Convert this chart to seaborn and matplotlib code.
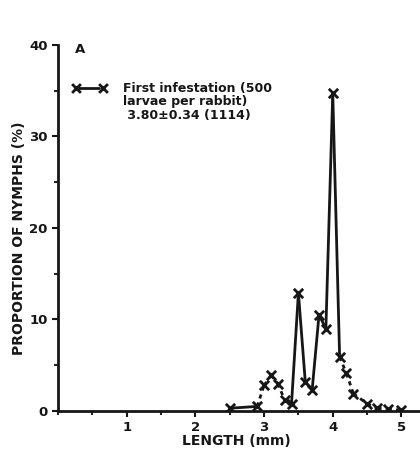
import matplotlib
matplotlib.use("Agg")
import matplotlib.pyplot as plt
import seaborn as sns
import pandas as pd
from matplotlib.ticker import MultipleLocator

length_mm = [2.5, 2.9, 3.0, 3.1, 3.2, 3.3, 3.4, 3.5, 3.6, 3.7, 3.8, 3.9, 4.0, 4.1, 4.2, 4.3, 4.5, 4.65, 4.8, 5.0]
proportion = [0.3, 0.5, 2.8, 3.9, 3.0, 1.2, 0.8, 12.9, 3.2, 2.3, 10.5, 9.0, 34.7, 5.9, 4.1, 1.9, 0.8, 0.3, 0.2, 0.1]
# line style per segment (between point i and i+1)
segment_style = ["solid", "dotted", "dotted", "dotted", "dotted", "dotted", "solid", "solid", "solid",
                 "solid", "solid", "solid", "solid", "dotted", "dotted", "dotted", "dotted", "dotted", "dotted"]

sns.set_style("ticks")
plt.rcParams["font.family"] = ["DejaVu Sans"]
plt.rcParams["font.weight"] = "bold"

fig = plt.figure(figsize=(4.2, 4.59), dpi=100)
ax = fig.add_axes([0.138, 0.1046, 0.862, 0.7974])

df = pd.DataFrame({"x": length_mm, "y": proportion})
ink = "#161616"
for i, st in enumerate(segment_style):
    seg = df.iloc[i:i + 2]
    sns.lineplot(data=seg, x="x", y="y", ax=ax, color=ink, lw=2.0,
                 linestyle=(0, (1.5, 1.5)) if st == "dotted" else "-", sort=False)
sns.scatterplot(data=df, x="x", y="y", ax=ax, marker="x", s=45, color=ink, linewidth=2.0, zorder=5)

ax.set_xlim(0, 5.27)
ax.set_ylim(0, 40)
ax.xaxis.set_major_locator(MultipleLocator(1))
ax.xaxis.set_minor_locator(MultipleLocator(0.5))
ax.yaxis.set_major_locator(MultipleLocator(10))
ax.yaxis.set_minor_locator(MultipleLocator(5))
ax.set_xticks([1, 2, 3, 4, 5])
ax.tick_params(axis="both", which="major", length=4, width=1.5, labelsize=9.5, colors=ink)
ax.tick_params(axis="both", which="minor", length=3, width=1.5)
for lab in ax.get_xticklabels() + ax.get_yticklabels():
    lab.set_fontweight("bold")
sns.despine(ax=ax)
for s in ["left", "bottom"]:
    ax.spines[s].set_linewidth(2.0)
    ax.spines[s].set_color(ink)

ax.set_xlabel("LENGTH (mm)", fontsize=10, fontweight="bold", color=ink)
ax.set_ylabel("PROPORTION OF NYMPHS (%)", fontsize=10, fontweight="bold", color=ink)
ax.xaxis.set_label_coords(0.492, -0.063)
ax.yaxis.set_label_coords(-0.087, 0.473)

ax.text(0.32, 39.5, "A", fontsize=9.5, fontweight="bold", color=ink, va="center", ha="center")
# legend sample
ax.plot([0.26, 0.6], [35.3, 35.3], color=ink, lw=2.0)
ax.scatter([0.26, 0.655], [35.3, 35.3], marker="x", s=40, color=ink, linewidth=2.0)
ax.text(0.95, 36.0, "First infestation (500\nlarvae per rabbit)\n 3.80\u00b10.34 (1114)",
        fontsize=9, fontweight="bold", color=ink, va="top", ha="left", linespacing=1.05)

fig.savefig("out.png", dpi=100)
